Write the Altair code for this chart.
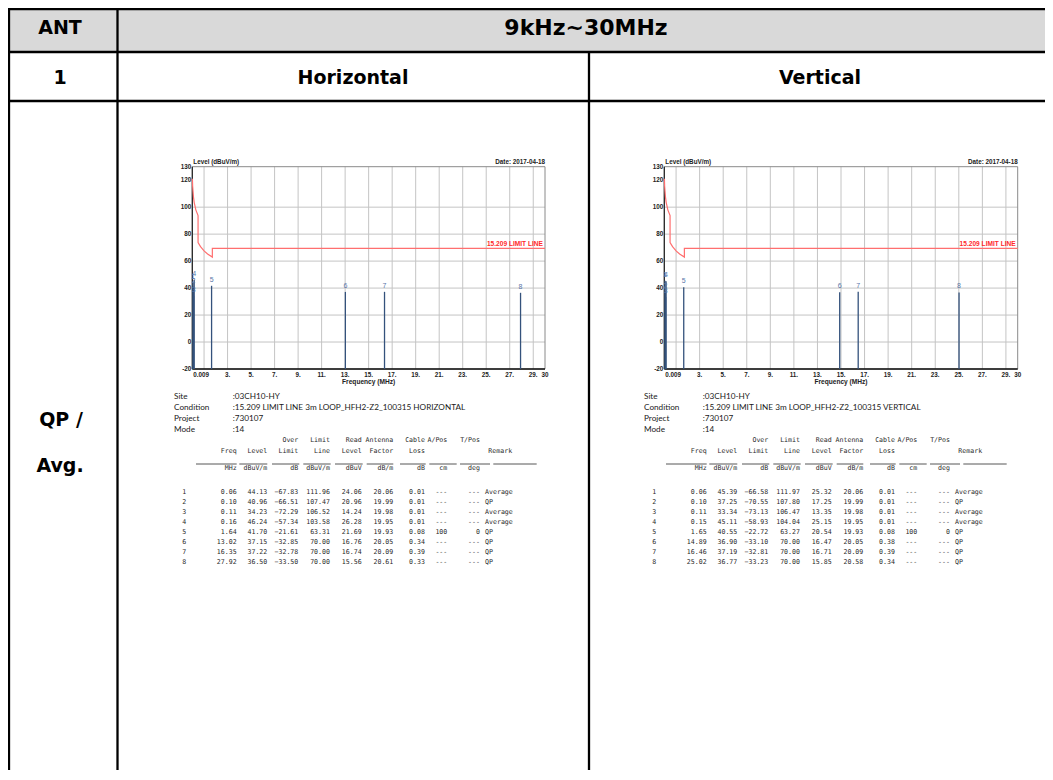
import altair as alt
import pandas as pd

# ---------------- data ----------------
marker_no = [1, 2, 3, 4, 5, 6, 7, 8]
remark = ["Average", "QP", "Average", "Average", "QP", "QP", "QP", "QP"]
apos = ["---", "---", "---", "---", "100", "---", "---", "---"]
tpos = ["---", "---", "---", "---", "0", "---", "---", "---"]

h_freq = [0.06, 0.10, 0.11, 0.16, 1.64, 13.02, 16.35, 27.92]
h_level = [44.13, 40.96, 34.23, 46.24, 41.70, 37.15, 37.22, 36.50]
h_over = [-67.83, -66.51, -72.29, -57.34, -21.61, -32.85, -32.78, -33.50]
h_limit = [111.96, 107.47, 106.52, 103.58, 63.31, 70.00, 70.00, 70.00]
h_read = [24.06, 20.96, 14.24, 26.28, 21.69, 16.76, 16.74, 15.56]
h_ant = [20.06, 19.99, 19.98, 19.95, 19.93, 20.05, 20.09, 20.61]
h_cable = [0.01, 0.01, 0.01, 0.01, 0.08, 0.34, 0.39, 0.33]

v_freq = [0.06, 0.10, 0.11, 0.15, 1.65, 14.89, 16.46, 25.02]
v_level = [45.39, 37.25, 33.34, 45.11, 40.55, 36.90, 37.19, 36.77]
v_over = [-66.58, -70.55, -73.13, -58.93, -22.72, -33.10, -32.81, -33.23]
v_limit = [111.97, 107.80, 106.47, 104.04, 63.27, 70.00, 70.00, 70.00]
v_read = [25.32, 17.25, 13.35, 25.15, 20.54, 16.47, 16.71, 15.85]
v_ant = [20.06, 19.99, 19.98, 19.95, 19.93, 20.05, 20.09, 20.58]
v_cable = [0.01, 0.01, 0.01, 0.01, 0.08, 0.38, 0.39, 0.34]

# 15.209 limit line
lim_freq = [0.009, 0.03, 0.06, 0.10, 0.16, 0.30, 0.49, 0.49, 0.70, 1.00, 1.30, 1.705, 1.705, 30.0]
lim_level = [121.0, 115.5, 111.96, 107.47, 103.58, 98.0, 93.8, 73.8, 70.7, 67.6, 65.3, 63.0, 69.5, 69.5]

x_grid = [1, 3, 5, 7, 9, 11, 13, 15, 17, 19, 21, 23, 25, 27, 29]
y_grid = [0, 20, 40, 60, 80, 100]
x_tick_vals = [3, 5, 7, 9, 11, 13, 15, 17, 19, 21, 23, 25, 27, 29, 30]
x_tick_text = ["3.", "5.", "7.", "9.", "11.", "13.", "15.", "17.", "19.", "21.", "23.", "25.", "27.", "29.", "30"]
y_tick_vals = [130, 120, 100, 80, 60, 40, 20, 0, -20]

site_labels = ["Site", "Condition", "Project", "Mode"]
h_site_vals = [":03CH10-HY", ":15.209 LIMIT LINE 3m LOOP_HFH2-Z2_100315 HORIZONTAL", ":730107", ":14"]
v_site_vals = [":03CH10-HY", ":15.209 LIMIT LINE 3m LOOP_HFH2-Z2_100315 VERTICAL", ":730107", ":14"]

# ---------------- layout helpers ----------------
W, H = 1037, 762
dummy = pd.DataFrame({"d": [0]})
BIG = "DejaVu Sans"
SANS = "Liberation Sans"
MONO = "DejaVu Sans Mono"
INFO = "Lato"


def hline(y, x0, x1, color="black", sw=2.3):
    return alt.Chart(dummy).mark_rule(color=color, strokeWidth=sw).encode(
        x=alt.value(x0), x2=alt.value(x1), y=alt.value(y))


def vline(x, y0, y1, color="black", sw=2.3):
    return alt.Chart(dummy).mark_rule(color=color, strokeWidth=sw).encode(
        x=alt.value(x), y=alt.value(y0), y2=alt.value(y1))


def label(text, x, y, size, font=BIG, weight="bold", align="center", color="black"):
    return alt.Chart(dummy).mark_text(
        text=text, font=font, fontSize=size, fontWeight=weight, align=align,
        baseline="middle", color=color).encode(x=alt.value(x), y=alt.value(y))


layers = []
# table frame
layers.append(alt.Chart(dummy).mark_rect(color="#d9d9d9").encode(
    x=alt.value(0), x2=alt.value(W), y=alt.value(0), y2=alt.value(44)))
layers += [
    hline(1, 0, W), hline(44, 0, W), hline(93, 0, W),
    vline(1, 0, H), vline(109.5, 0, H), vline(581, 44, H),
]
layers += [
    label("ANT", 52, 20, 19),
    label("9kHz~30MHz", 578, 20, 22),
    label("1", 52, 70, 19),
    label("Horizontal", 345, 70, 19),
    label("Vertical", 812, 70, 19),
    label("QP /", 53, 412, 19),
    label("Avg.", 52, 458, 19),
]

Y_BOT, Y_TOP = 361.0, 158.7


def panel_plot(freq, level, x_rng):
    xs = alt.Scale(domain=[0, 30], range=x_rng, nice=False, zero=False)
    ys = alt.Scale(domain=[-20, 130], range=[Y_BOT, Y_TOP], nice=False, zero=False)

    def X(f):
        return alt.X(f, type="quantitative", scale=xs, axis=None)

    def Y(f):
        return alt.Y(f, type="quantitative", scale=ys, axis=None)

    gx = pd.DataFrame({"f": x_grid, "lo": -20, "hi": 130})
    gy = pd.DataFrame({"v": y_grid, "a": 0, "b": 30})
    box = pd.DataFrame({"a": [0], "b": [30], "lo": [-20], "hi": [130], "mid": [15]})
    lim = pd.DataFrame({"f": lim_freq, "l": lim_level, "i": list(range(len(lim_freq)))})
    mk = pd.DataFrame({"f": freq, "l": level, "n": [str(n) for n in marker_no], "lo": -20})
    xt = pd.DataFrame({"f": x_tick_vals, "t": x_tick_text, "lo": -20})
    yt = pd.DataFrame({"v": y_tick_vals, "t": [str(v) for v in y_tick_vals], "a": 0})

    ls = []
    ls.append(alt.Chart(gx).mark_rule(color="#c4c4c4", strokeWidth=1).encode(x=X("f"), y=Y("lo"), y2="hi"))
    ls.append(alt.Chart(gy).mark_rule(color="#c4c4c4", strokeWidth=1).encode(y=Y("v"), x=X("a"), x2="b"))
    ls.append(alt.Chart(box).mark_rect(fill="transparent", stroke="#8a8a8a", strokeWidth=1).encode(
        x=X("a"), x2="b", y=Y("lo"), y2="hi"))
    ls.append(alt.Chart(box).mark_rule(color="#222222", strokeWidth=1.2).encode(x=X("a"), y=Y("lo"), y2="hi"))
    ls.append(alt.Chart(box).mark_rule(color="#111111", strokeWidth=1.6).encode(y=Y("lo"), x=X("a"), x2="b"))
    ls.append(alt.Chart(lim).mark_line(color="#ff6f6f", strokeWidth=1.2).encode(
        x=X("f"), y=Y("l"), order="i:Q"))
    ls.append(alt.Chart(mk).mark_rule(color="#34527c", strokeWidth=1.3).encode(x=X("f"), y=Y("lo"), y2="l"))
    ls.append(alt.Chart(mk).mark_text(font=SANS, fontSize=7, color="#5876a8", baseline="middle", dy=-6).encode(
        x=X("f"), y=Y("l"), text="n:N"))
    # axis labels
    ls.append(alt.Chart(xt).mark_text(font=SANS, fontSize=6.3, fontWeight="bold", baseline="middle", dy=5.5,
                                      color="#222222").encode(x=X("f"), y=Y("lo"), text="t:N"))
    ls.append(alt.Chart(box).mark_text(text="0.009", font=SANS, fontSize=6.3, fontWeight="bold", align="left",
                                       baseline="middle", dy=5.5, dx=1, color="#222222").encode(x=X("a"), y=Y("lo")))
    ls.append(alt.Chart(yt).mark_text(font=SANS, fontSize=6.3, fontWeight="bold", align="right", baseline="middle",
                                      dx=-1, color="#222222").encode(x=X("a"), y=Y("v"), text="t:N"))
    ls.append(alt.Chart(box).mark_text(text="Level (dBuV/m)", font=SANS, fontSize=6.3, fontWeight="bold",
                                       align="left", baseline="middle", dy=-4.5, dx=1,
                                       color="#222222").encode(x=X("a"), y=Y("hi")))
    ls.append(alt.Chart(box).mark_text(text="Date: 2017-04-18", font=SANS, fontSize=6.3, fontWeight="bold",
                                       align="right", baseline="middle", dy=-4.5,
                                       color="#222222").encode(x=X("b"), y=Y("hi")))
    ls.append(alt.Chart(box).mark_text(text="Frequency (MHz)", font=SANS, fontSize=6.6, fontWeight="bold",
                                       baseline="middle", dy=13, color="#222222").encode(x=X("mid"), y=Y("lo")))
    ls.append(alt.Chart(pd.DataFrame({"b": [30], "l": [70]})).mark_text(
        text="15.209 LIMIT LINE", font=SANS, fontSize=6.6, fontWeight="bold", align="right",
        baseline="middle", dy=-4, dx=-2, color="#ff2a2a").encode(x=X("b"), y=Y("l")))
    return alt.layer(*ls)


COLS = [228.7, 259.3, 290.3, 322.0, 353.7, 385.3, 417.0, 439.3, 472.0]
UNDER = [(196, 236.7), (239.3, 267.3), (272, 299.3), (303.3, 330.7), (335, 362.7),
         (366.7, 393.3), (400, 425.7), (429.3, 456.7), (460, 490), (493.3, 536.7)]


def panel_table(off, freq, level, over, limit, read, ant, cable, site_vals):
    df = pd.DataFrame({"row": marker_no, "n": [str(n) for n in marker_no], "freq": freq, "level": level,
                       "over": over, "limit": limit, "read": read, "ant": ant, "cable": cable,
                       "apos": apos, "tpos": tpos, "remark": remark})
    rs = alt.Scale(domain=[1, 8], range=[484, 554], nice=False, zero=False)
    Yr = alt.Y("row:Q", scale=rs, axis=None)
    ls = []

    def mono(text, x, y, align="right"):
        return label(text, x + off, y, 6.6, font=MONO, weight="normal", align=align, color="#2a2a2a")

    for lab, val, y in zip(site_labels, site_vals, [389, 400, 411, 422]):
        ls.append(label(lab, 166 + off, y, 8.2, font=INFO, weight="normal", align="left", color="#1a1a1a"))
        ls.append(label(val, 224.7 + off, y, 8.2, font=INFO, weight="normal", align="left", color="#1a1a1a"))
    for t, c in zip(["Over", "Limit", "Read", "Antenna", "Cable", "A/Pos", "T/Pos"], [2, 3, 4, 5, 6, 7, 8]):
        ls.append(mono(t, COLS[c], 432))
    for t, c in zip(["Freq", "Level", "Limit", "Line", "Level", "Factor", "Loss"], range(7)):
        ls.append(mono(t, COLS[c], 443))
    ls.append(mono("Remark", 480.3, 443, align="left"))
    for t, c in zip(["MHz", "dBuV/m", "dB", "dBuV/m", "dBuV", "dB/m", "dB", "cm", "deg"], range(9)):
        ls.append(mono(t, COLS[c], 459.5))
    for a, b in UNDER:
        ls.append(hline(456, a - 8 + off, b - 8 + off, color="#444444", sw=0.9))

    ls.append(alt.Chart(df).mark_text(font=MONO, fontSize=6.6, color="#2a2a2a", baseline="middle").encode(
        x=alt.value(176.3 + off), y=Yr, text="n:N"))
    num_cols = ["freq", "level", "over", "limit", "read", "ant", "cable"]
    for c, field in enumerate(num_cols):
        ls.append(alt.Chart(df).mark_text(font=MONO, fontSize=6.6, color="#2a2a2a", baseline="middle",
                                          align="right").encode(
            x=alt.value(COLS[c] + off), y=Yr, text=alt.Text(f"{field}:Q", format=".2f")))
    for c, field in [(7, "apos"), (8, "tpos")]:
        ls.append(alt.Chart(df).mark_text(font=MONO, fontSize=6.6, color="#2a2a2a", baseline="middle",
                                          align="right").encode(x=alt.value(COLS[c] + off), y=Yr, text=f"{field}:N"))
    ls.append(alt.Chart(df).mark_text(font=MONO, fontSize=6.6, color="#2a2a2a", baseline="middle",
                                      align="left").encode(x=alt.value(477 + off), y=Yr, text="remark:N"))
    return alt.layer(*ls)


layers.append(panel_plot(h_freq, h_level, [184.3, 537.0]))
layers.append(panel_table(0, h_freq, h_level, h_over, h_limit, h_read, h_ant, h_cable, h_site_vals))
layers.append(panel_plot(v_freq, v_level, [656.3, 1009.7]))
layers.append(panel_table(470, v_freq, v_level, v_over, v_limit, v_read, v_ant, v_cable, v_site_vals))

chart = alt.layer(*layers).resolve_scale(x="independent", y="independent").properties(
    width=W, height=H, padding=0, autosize=alt.AutoSizeParams(type="none"),
    background="white",
).configure_view(stroke=None)

chart.save("out.html", embed_options={"renderer": "svg", "actions": False})
